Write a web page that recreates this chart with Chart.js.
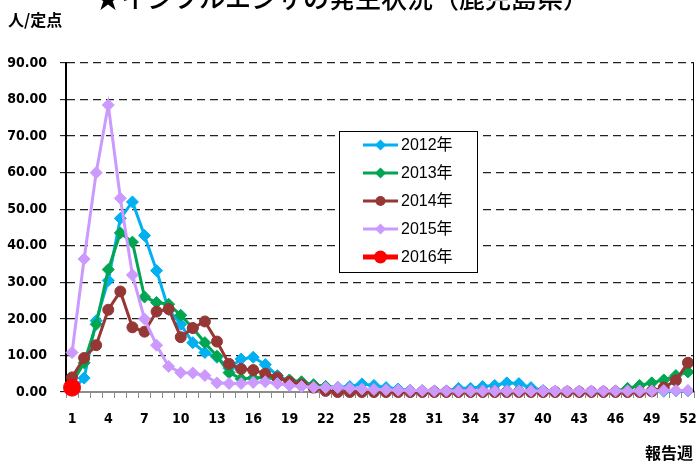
<!DOCTYPE html>
<html><head><meta charset="utf-8">
<script src="https://cdn.jsdelivr.net/npm/chart.js@4.4.0/dist/chart.umd.min.js"></script>
<style>html,body{margin:0;padding:0;background:#fff;} #wrap{width:696px;height:461px;position:relative;}</style>
</head><body><div id="wrap"><canvas id="c" width="696" height="461"></canvas></div>
<script>
const titleText = "★インフルエンザの発生状況（鹿児島県）";
const yAxisTitle = "人/定点";
const xAxisTitle = "報告週";
const weeks = ["1","2","3","4","5","6","7","8","9","10","11","12","13","14","15","16","17","18","19","20","21","22","23","24","25","26","27","28","29","30","31","32","33","34","35","36","37","38","39","40","41","42","43","44","45","46","47","48","49","50","51","52"];
const shownWeekLabels = ["1","4","7","10","13","16","19","22","25","28","31","34","37","40","43","46","49","52"];
const seriesNames = ["2012年","2013年","2014年","2015年","2016年"];
const y2012 = [0.5,3.8,19.5,30.5,47.5,52.0,42.8,33.2,22.5,18.5,13.5,10.8,9.5,6.5,9.0,9.5,7.5,4.5,3.0,2.2,1.8,1.5,1.3,1.5,2.2,1.8,1.2,0.8,0.5,0.4,0.3,0.3,1.0,1.0,1.5,1.8,2.5,2.3,1.2,0.4,0.2,0.1,0.1,0.1,0.1,0.1,0.1,0.1,0.2,0.2,0.3,0.3];
const y2013 = [2.5,8.0,18.5,33.5,43.5,41.0,26.0,24.5,24.0,21.0,17.5,13.5,9.8,5.3,3.6,3.8,4.0,3.5,3.3,2.8,2.0,1.5,1.0,0.8,0.6,0.5,0.3,0.2,0.1,0.1,0.1,0.1,0.1,0.1,0.1,0.1,0.1,0.1,0.1,0.1,0.1,0.1,0.1,0.1,0.1,0.3,1.0,1.8,2.5,3.3,4.5,5.5];
const y2014 = [4.0,9.3,12.8,22.5,27.5,17.7,16.5,22.0,22.7,15.0,17.5,19.3,13.8,7.7,6.3,6.0,5.0,4.0,2.8,2.0,1.2,0.3,0.0,0.0,0.0,0.0,0.0,0.0,0.0,0.0,0.0,0.0,0.0,0.0,0.0,0.0,0.0,0.0,0.0,0.0,0.0,0.0,0.0,0.0,0.0,0.0,0.0,0.0,0.2,1.2,3.2,8.0];
const y2015 = [10.8,36.4,60.0,78.5,53.0,32.0,20.0,12.8,7.0,5.3,5.2,4.5,2.5,2.3,2.3,2.6,2.8,2.3,1.8,1.5,1.3,1.2,1.2,1.0,0.8,0.7,0.6,0.5,0.4,0.4,0.3,0.3,0.3,0.3,0.3,0.3,0.3,0.3,0.3,0.3,0.3,0.3,0.3,0.3,0.3,0.3,0.3,0.3,0.3,0.4,0.4,0.4];
const y2016 = [1.2];
const yTicks = [0,10,20,30,40,50,60,70,80,90];

const colors = ["#00B0F0","#00A651","#953735","#CC99FF","#FF0000"];
const styles = ["rectRot","rectRot","circle","rectRot","circle"];
const radii = [6,6,5.5,6,8.5];
const widths = [3,3,3,3,4];
const allData = [y2012,y2013,y2014,y2015,y2016];

const datasets = allData.map((d,i)=>({
  label: seriesNames[i], data: d,
  borderColor: colors[i], backgroundColor: colors[i],
  pointBackgroundColor: colors[i], pointBorderColor: colors[i],
  pointStyle: styles[i], pointRadius: radii[i], pointBorderWidth: 1,
  borderWidth: widths[i], tension: 0, clip: false, order: 4 - i
}));

const tickFont = {family:"'DejaVu Sans Condensed','DejaVu Sans'", weight:'bold', size:14};

const extras = {
  id:'extras',
  afterDraw(chart){
    const ctx = chart.ctx, ca = chart.chartArea;
    ctx.save();
    ctx.strokeStyle = '#000'; ctx.lineWidth = 1;
    ctx.beginPath(); ctx.moveTo(ca.right - 0.5, ca.top); ctx.lineTo(ca.right - 0.5, ca.bottom); ctx.stroke();
    ctx.fillStyle = '#000'; ctx.textBaseline = 'middle';
    ctx.textAlign = 'center';
    ctx.font = "500 26px 'Noto Sans CJK JP'";
    ctx.fillText(titleText, 342, -2);
    ctx.font = "bold 16px 'Noto Sans CJK JP'";
    ctx.textAlign = 'left';
    ctx.fillText(yAxisTitle, 8, 20);
    ctx.textAlign = 'right';
    ctx.fillText(xAxisTitle, 693, 453);
    // legend
    const bx = 339.5, by = 131.5, bw = 138, bh = 141;
    ctx.fillStyle = '#fff'; ctx.fillRect(bx, by, bw, bh);
    ctx.strokeStyle = '#000'; ctx.lineWidth = 1; ctx.strokeRect(bx, by, bw, bh);
    const ds = chart.data.datasets;
    ds.forEach((d,i)=>{
      const y = 145 + i*28;
      ctx.strokeStyle = d.borderColor; ctx.lineWidth = i===4 ? 5 : 3;
      ctx.beginPath(); ctx.moveTo(363, y); ctx.lineTo(398, y); ctx.stroke();
      ctx.fillStyle = d.borderColor;
      const cx = 380.5;
      ctx.beginPath();
      if (d.pointStyle === 'rectRot') {
        const r = 5.5;
        ctx.moveTo(cx, y - r); ctx.lineTo(cx + r, y); ctx.lineTo(cx, y + r); ctx.lineTo(cx - r, y); ctx.closePath();
      } else {
        ctx.arc(cx, y, i===4 ? 6.5 : 5, 0, Math.PI*2);
      }
      ctx.fill();
      ctx.fillStyle = '#000'; ctx.textAlign = 'left';
      ctx.font = "16px 'Liberation Sans','Noto Sans CJK JP'";
      ctx.fillText(d.label, 401, y + 1);
    });
    ctx.restore();
  }
};

new Chart(document.getElementById('c'), {
  type: 'line',
  data: { labels: weeks, datasets },
  options: {
    responsive: false, animation: false,
    layout: { autoPadding: false, padding: { top: 63, right: 2, left: 0, bottom: 0 } },
    plugins: { legend: { display: false }, tooltip: { enabled: false } },
    scales: {
      x: {
        type: 'category', offset: true,
        grid: { offset: true, drawOnChartArea: false, drawTicks: true, tickLength: 6, tickColor: '#8c8c8c', tickWidth: 1 },
        border: { color: '#8c8c8c', width: 2 },
        ticks: { autoSkip: false, maxRotation: 0, minRotation: 0, padding: 13, color: '#000', font: tickFont,
          callback: (v, i) => shownWeekLabels.includes(weeks[i]) ? weeks[i] : '' },
        afterFit(s) { s.height = 69; s.paddingLeft = 0; s.paddingRight = 0; }
      },
      y: {
        min: 0, max: 90,
        afterBuildTicks(s) { s.ticks = yTicks.map(v => ({ value: v })); },
        ticks: { callback: v => Number(v).toFixed(2), padding: 13, color: '#000', font: tickFont },
        grid: { color: c => (c.tick && c.tick.value === 0) ? 'rgba(0,0,0,0)' : '#222', lineWidth: 1.3,
          tickColor: '#000', tickLength: 6, tickWidth: 1, tickBorderDash: [] },
        border: { color: '#000', width: 2, dash: [8, 5] },
        afterFit(s) { s.width = 66; s.paddingTop = 0; s.paddingBottom = 0; }
      }
    }
  },
  plugins: [extras]
});
</script></body></html>
